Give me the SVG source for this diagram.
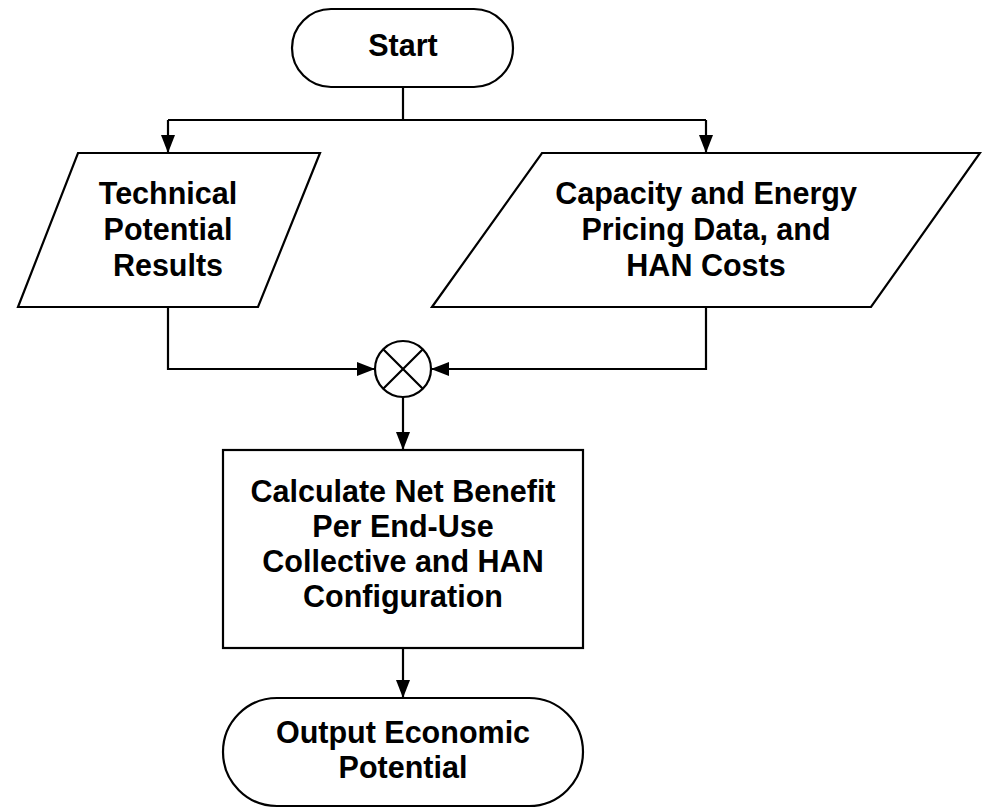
<svg xmlns="http://www.w3.org/2000/svg" width="982" height="809" viewBox="0 0 982 809">
<defs>
<style>
.s{fill:#fff;stroke:#000;stroke-width:2.2}
.t{font-family:"Liberation Sans",Arial,sans-serif;font-weight:bold;font-size:30.5px;fill:#000;text-anchor:middle}
.c{fill:none;stroke:#000;stroke-width:2.2}
</style>
<marker id="ah" markerWidth="18" markerHeight="14" refX="18" refY="7" orient="auto" markerUnits="userSpaceOnUse">
<path d="M0,0 L18,7 L0,14 Z" fill="#000"/>
</marker>
</defs>
<rect width="982" height="809" fill="#fff"/>
<g id="connectors">
<path class="c" d="M403,87 V120"/>
<path class="c" d="M168,120 H706"/>
<path class="c" d="M168,120 V153" marker-end="url(#ah)"/>
<path class="c" d="M706,120 V153" marker-end="url(#ah)"/>
<path class="c" d="M168,307 V369 H375" marker-end="url(#ah)"/>
<path class="c" d="M706,307 V369 H431" marker-end="url(#ah)"/>
<path class="c" d="M403,397 V450" marker-end="url(#ah)"/>
<path class="c" d="M403,648 V698" marker-end="url(#ah)"/>
</g>
<g id="start">
<rect class="s" x="292" y="9" width="221" height="78" rx="39" ry="39"/>
<text class="t" x="403" y="56">Start</text>
</g>
<g id="technical">
<polygon class="s" points="78,153 320,153 258,307 18,307"/>
<text class="t" x="168" y="204">Technical</text>
<text class="t" x="168" y="240">Potential</text>
<text class="t" x="168" y="276">Results</text>
</g>
<g id="pricing">
<polygon class="s" points="542,153 980,153 871,307 432,307"/>
<text class="t" x="706" y="204">Capacity and Energy</text>
<text class="t" x="706" y="240">Pricing Data, and</text>
<text class="t" x="706" y="276">HAN Costs</text>
</g>
<g id="junction">
<circle class="s" cx="403" cy="369" r="28"/>
<path class="c" d="M383.2,349.2 L422.8,388.8 M422.8,349.2 L383.2,388.8"/>
</g>
<g id="calculate">
<rect class="s" x="223" y="450" width="360" height="198"/>
<text class="t" x="403" y="502">Calculate Net Benefit</text>
<text class="t" x="403" y="537">Per End-Use</text>
<text class="t" x="403" y="572">Collective and HAN</text>
<text class="t" x="403" y="607">Configuration</text>
</g>
<g id="output">
<rect class="s" x="223" y="698" width="360" height="108" rx="54" ry="54"/>
<text class="t" x="403" y="743">Output Economic</text>
<text class="t" x="403" y="778">Potential</text>
</g>
</svg>
